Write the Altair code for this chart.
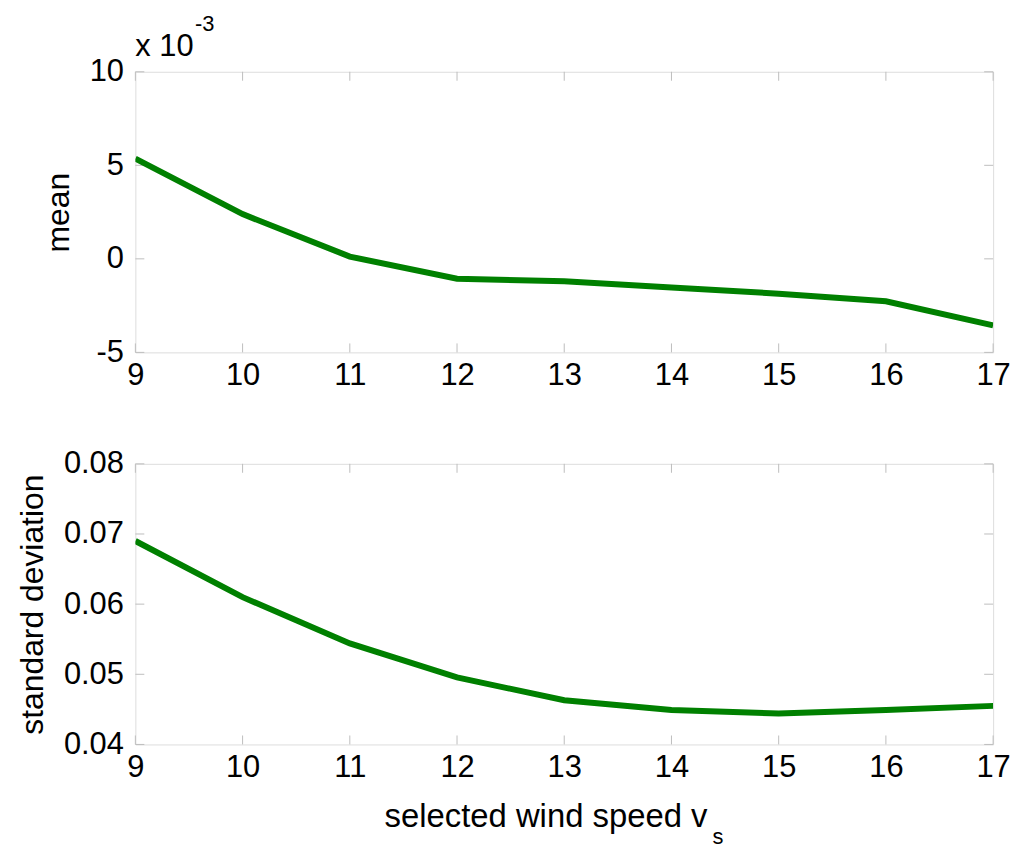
import altair as alt
import pandas as pd

speeds = [9, 10, 11, 12, 13, 14, 15, 16, 17]
mean_e3 = [5.36, 2.39, 0.12, -1.06, -1.20, -1.53, -1.86, -2.27, -3.56]
std_dev = [0.0690, 0.0610, 0.0544, 0.04955, 0.0463, 0.0449, 0.0444, 0.0449, 0.0455]
mean_ticks = [-5, 0, 5, 10]
std_ticks = [0.04, 0.05, 0.06, 0.07, 0.08]

W, H = 862, 282
FONT = "Liberation Sans"
LFS = 31
TFS = 32
GREEN = "#008000"
FRAME = "#bdbdbd"
TL = 9

df_mean = pd.DataFrame({"v": speeds, "m": mean_e3})
df_std = pd.DataFrame({"v": speeds, "s": std_dev})
df_xt = pd.DataFrame({"v": speeds})

xscale = alt.Scale(domain=[9, 17], nice=False, zero=False)


def xaxis():
    return alt.Axis(values=speeds, format="d", grid=False, domain=False, ticks=False,
                    labelFont=FONT, labelFontSize=LFS, labelColor="black",
                    labelFlush=False, labelOverlap=False,
                    labelPadding=8, title=None)


def panel(df, field, yticks, ydom, yfmt, ytitle):
    yscale = alt.Scale(domain=ydom, nice=False, zero=False)
    yaxis = alt.Axis(values=yticks, format=yfmt, grid=False, domain=False, ticks=False,
                     labelExpr="replace(datum.label, '\u2212', '-')",
                     labelFont=FONT, labelFontSize=LFS, labelColor="black", labelPadding=12,
                     labelFlush=False, labelOverlap=False,
                     title=ytitle, titleFont=FONT, titleFontSize=TFS, titleFontWeight="normal",
                     titleColor="black", titlePadding=14)
    line = alt.Chart(df).mark_line(color=GREEN, strokeWidth=6, clip=True).encode(
        x=alt.X("v:Q", scale=xscale, axis=xaxis()),
        y=alt.Y(f"{field}:Q", scale=yscale, axis=yaxis),
    )
    xt_b = alt.Chart(df_xt).mark_rule(color=FRAME, strokeWidth=1).encode(
        x=alt.X("v:Q", scale=xscale), y=alt.value(H), y2=alt.value(H - TL))
    xt_t = alt.Chart(df_xt).mark_rule(color=FRAME, strokeWidth=1).encode(
        x=alt.X("v:Q", scale=xscale), y=alt.value(0), y2=alt.value(TL))
    df_yt = pd.DataFrame({field: yticks})
    yt_l = alt.Chart(df_yt).mark_rule(color=FRAME, strokeWidth=1).encode(
        y=alt.Y(f"{field}:Q", scale=yscale), x=alt.value(0), x2=alt.value(TL))
    yt_r = alt.Chart(df_yt).mark_rule(color=FRAME, strokeWidth=1).encode(
        y=alt.Y(f"{field}:Q", scale=yscale), x=alt.value(W), x2=alt.value(W - TL))
    return [xt_b, xt_t, yt_l, yt_r, line]


top_layers = panel(df_mean, "m", mean_ticks, [-5, 10], "d", "mean")
exp_df = pd.DataFrame({"t": ["x 10"]})
sup_df = pd.DataFrame({"t": ["-3"]})
exp_txt = alt.Chart(exp_df).mark_text(font=FONT, fontSize=LFS, align="left", baseline="alphabetic",
                                      color="black").encode(
    text="t:N", x=alt.value(0), y=alt.value(-16))
sup_txt = alt.Chart(sup_df).mark_text(font=FONT, fontSize=22, align="left", baseline="alphabetic",
                                      color="black").encode(
    text="t:N", x=alt.value(60), y=alt.value(-41))
top = alt.layer(*top_layers, exp_txt, sup_txt).properties(width=W, height=H)

bot_layers = panel(df_std, "s", std_ticks, [0.04, 0.08], ".2f", "standard deviation")
xt_df = pd.DataFrame({"t": ["selected wind speed v"]})
xs_df = pd.DataFrame({"t": ["s"]})
xtitle = alt.Chart(xt_df).mark_text(font=FONT, fontSize=33, align="right", baseline="alphabetic",
                                    color="black").encode(
    text="t:N", x=alt.value(575), y=alt.value(H + 83))
xsub = alt.Chart(xs_df).mark_text(font=FONT, fontSize=22, align="left", baseline="alphabetic",
                                  color="black").encode(
    text="t:N", x=alt.value(580), y=alt.value(H + 100))
bottom = alt.layer(*bot_layers, xtitle, xsub).properties(width=W, height=H)

chart = alt.vconcat(top, bottom, spacing=112, bounds="flush").properties(
    padding={"left": 8, "top": 2, "right": 5, "bottom": 2}
).configure_view(
    stroke=FRAME, strokeWidth=1
).configure(background="white")

chart.save("out.html", embed_options={"renderer": "svg", "actions": False})
